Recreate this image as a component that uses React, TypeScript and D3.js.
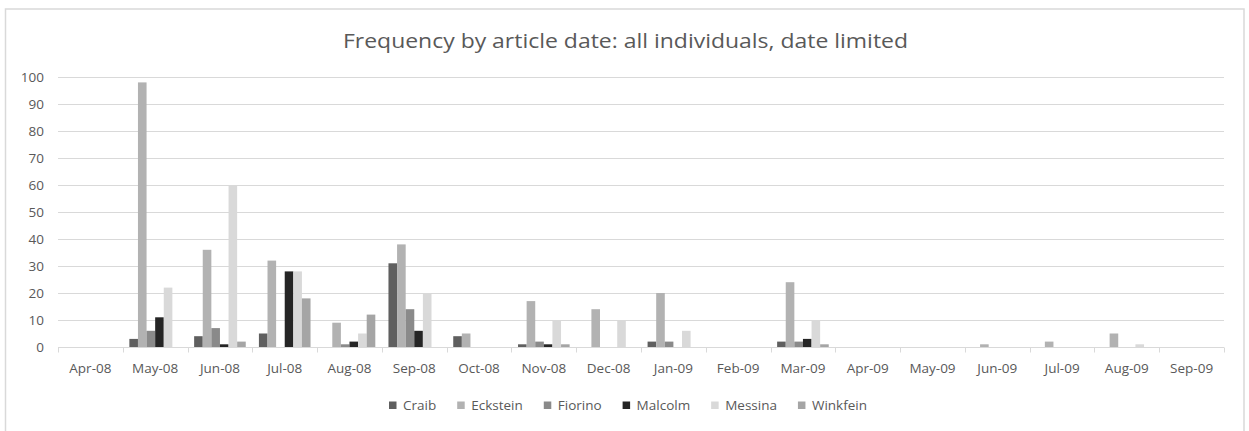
import { useEffect, useRef } from 'react';
import * as d3 from 'd3';

const months = [
  'Apr-08', 'May-08', 'Jun-08', 'Jul-08', 'Aug-08', 'Sep-08', 'Oct-08', 'Nov-08', 'Dec-08',
  'Jan-09', 'Feb-09', 'Mar-09', 'Apr-09', 'May-09', 'Jun-09', 'Jul-09', 'Aug-09', 'Sep-09',
];

const craib = [0, 3, 4, 5, 0, 31, 4, 1, 0, 2, 0, 2, 0, 0, 0, 0, 0, 0];
const eckstein = [0, 98, 36, 32, 9, 38, 5, 17, 14, 20, 0, 24, 0, 0, 1, 2, 5, 0];
const fiorino = [0, 6, 7, 0, 1, 14, 0, 2, 0, 2, 0, 2, 0, 0, 0, 0, 0, 0];
const malcolm = [0, 11, 1, 28, 2, 6, 0, 1, 0, 0, 0, 3, 0, 0, 0, 0, 0, 0];
const messina = [0, 22, 60, 28, 5, 20, 0, 10, 10, 6, 0, 10, 0, 0, 0, 0, 1, 0];
const winkfein = [0, 0, 2, 18, 12, 0, 0, 1, 0, 0, 0, 1, 0, 0, 0, 0, 0, 0];

const seriesNames = ['Craib', 'Eckstein', 'Fiorino', 'Malcolm', 'Messina', 'Winkfein'];
const seriesValues = [craib, eckstein, fiorino, malcolm, messina, winkfein];
const seriesColors = ['#5f5f5f', '#b2b2b2', '#8a8a8a', '#252525', '#d9d9d9', '#a5a5a5'];

const yTicks = [0, 10, 20, 30, 40, 50, 60, 70, 80, 90, 100];
const title = 'Frequency by article date: all individuals, date limited';

const W = 1249;
const H = 431;
const FONT = '"Open Sans", sans-serif';

const App = () => {
  const svgRef = useRef<SVGSVGElement>(null);

  useEffect(() => {
    if (!svgRef.current) return;
    const svg = d3.select(svgRef.current);
    svg.selectAll('*').remove();

    const margin = { top: 77, right: 25, bottom: 84, left: 58 };

    // Chart frame
    svg.append('rect')
      .attr('x', 5.5).attr('y', 9)
      .attr('width', 1238.5).attr('height', H)
      .attr('fill', '#fff')
      .attr('stroke', '#d9d9d9')
      .attr('stroke-width', 1.5);

    // Title (Calibri is narrower, so stretch to its width)
    svg.append('text')
      .attr('x', 343).attr('y', 48)
      .attr('textLength', 565)
      .attr('lengthAdjust', 'spacingAndGlyphs')
      .attr('fill', '#595959')
      .style('font-family', FONT)
      .style('font-size', '19.5px')
      .text(title);

    // Scales
    const x = d3.scaleBand<string>()
      .domain(months)
      .range([margin.left, W - margin.right])
      .padding(0);

    const y = d3.scaleLinear()
      .domain([0, 100])
      .range([H - margin.bottom, margin.top]);

    const barW = x.bandwidth() / 7.53;
    const inner = d3.scaleBand<string>()
      .domain(seriesNames)
      .range([(x.bandwidth() - 6 * barW) / 2, (x.bandwidth() + 6 * barW) / 2])
      .padding(0);

    // Grid lines
    svg.append('g')
      .selectAll('line')
      .data(yTicks.filter(t => t > 0))
      .enter()
      .append('line')
      .attr('x1', margin.left).attr('x2', W - margin.right)
      .attr('y1', d => Math.round(y(d)) + 0.5).attr('y2', d => Math.round(y(d)) + 0.5)
      .attr('stroke', '#d9d9d9')
      .attr('stroke-width', 1);

    // Y labels
    svg.append('g')
      .selectAll('text')
      .data(yTicks)
      .enter()
      .append('text')
      .attr('x', 44)
      .attr('y', d => y(d))
      .attr('dy', '0.35em')
      .attr('text-anchor', 'end')
      .attr('fill', '#595959')
      .style('font-family', FONT)
      .style('font-size', '13.5px')
      .text(d => d);

    // Bars
    seriesNames.forEach((name, si) => {
      svg.append('g')
        .selectAll('rect')
        .data(seriesValues[si])
        .enter()
        .append('rect')
        .attr('x', (_, i) => (x(months[i]) ?? 0) + (inner(name) ?? 0))
        .attr('width', inner.bandwidth())
        .attr('y', d => y(d))
        .attr('height', d => y(0) - y(d))
        .attr('fill', seriesColors[si]);
    });

    // X axis line and ticks
    const axisY = Math.round(y(0)) + 0.5;
    svg.append('line')
      .attr('x1', margin.left).attr('x2', W - margin.right)
      .attr('y1', axisY).attr('y2', axisY)
      .attr('stroke', '#d9d9d9')
      .attr('stroke-width', 1);

    const boundaries = months.map(m => x(m) ?? 0).concat([W - margin.right]);
    svg.append('g')
      .selectAll('line')
      .data(boundaries)
      .enter()
      .append('line')
      .attr('x1', d => Math.round(d) + 0.5).attr('x2', d => Math.round(d) + 0.5)
      .attr('y1', axisY).attr('y2', axisY + 5)
      .attr('stroke', '#d9d9d9');

    // X labels
    svg.append('g')
      .selectAll('text')
      .data(months)
      .enter()
      .append('text')
      .attr('x', d => (x(d) ?? 0) + x.bandwidth() / 2)
      .attr('y', 373)
      .attr('text-anchor', 'middle')
      .attr('fill', '#595959')
      .style('font-family', FONT)
      .style('font-size', '13.5px')
      .text(d => d);

    // Legend, laid out from measured text widths
    const legend = svg.append('g');
    const items = seriesNames.map((name, i) => {
      const g = legend.append('g');
      g.append('rect')
        .attr('width', 7.5).attr('height', 7.5)
        .attr('y', 401.5)
        .attr('fill', seriesColors[i]);
      const t = g.append('text')
        .attr('x', 14)
        .attr('y', 405.5)
        .attr('dy', '0.35em')
        .attr('fill', '#595959')
        .style('font-family', FONT)
        .style('font-size', '13.5px')
        .text(name);
      const w = 14 + (t.node() as SVGTextElement).getComputedTextLength();
      return { g, w };
    });
    const gap = 21;
    const total = d3.sum(items, d => d.w) + gap * (items.length - 1);
    let cx = 628 - total / 2;
    items.forEach(it => {
      it.g.attr('transform', `translate(${cx},0)`);
      cx += it.w + gap;
    });
  }, []);

  return (
    <svg
      ref={svgRef}
      width={W}
      height={H}
      style={{ position: 'absolute', left: 0, top: 0, display: 'block', background: '#fff' }}
    />
  );
};

export default App;
